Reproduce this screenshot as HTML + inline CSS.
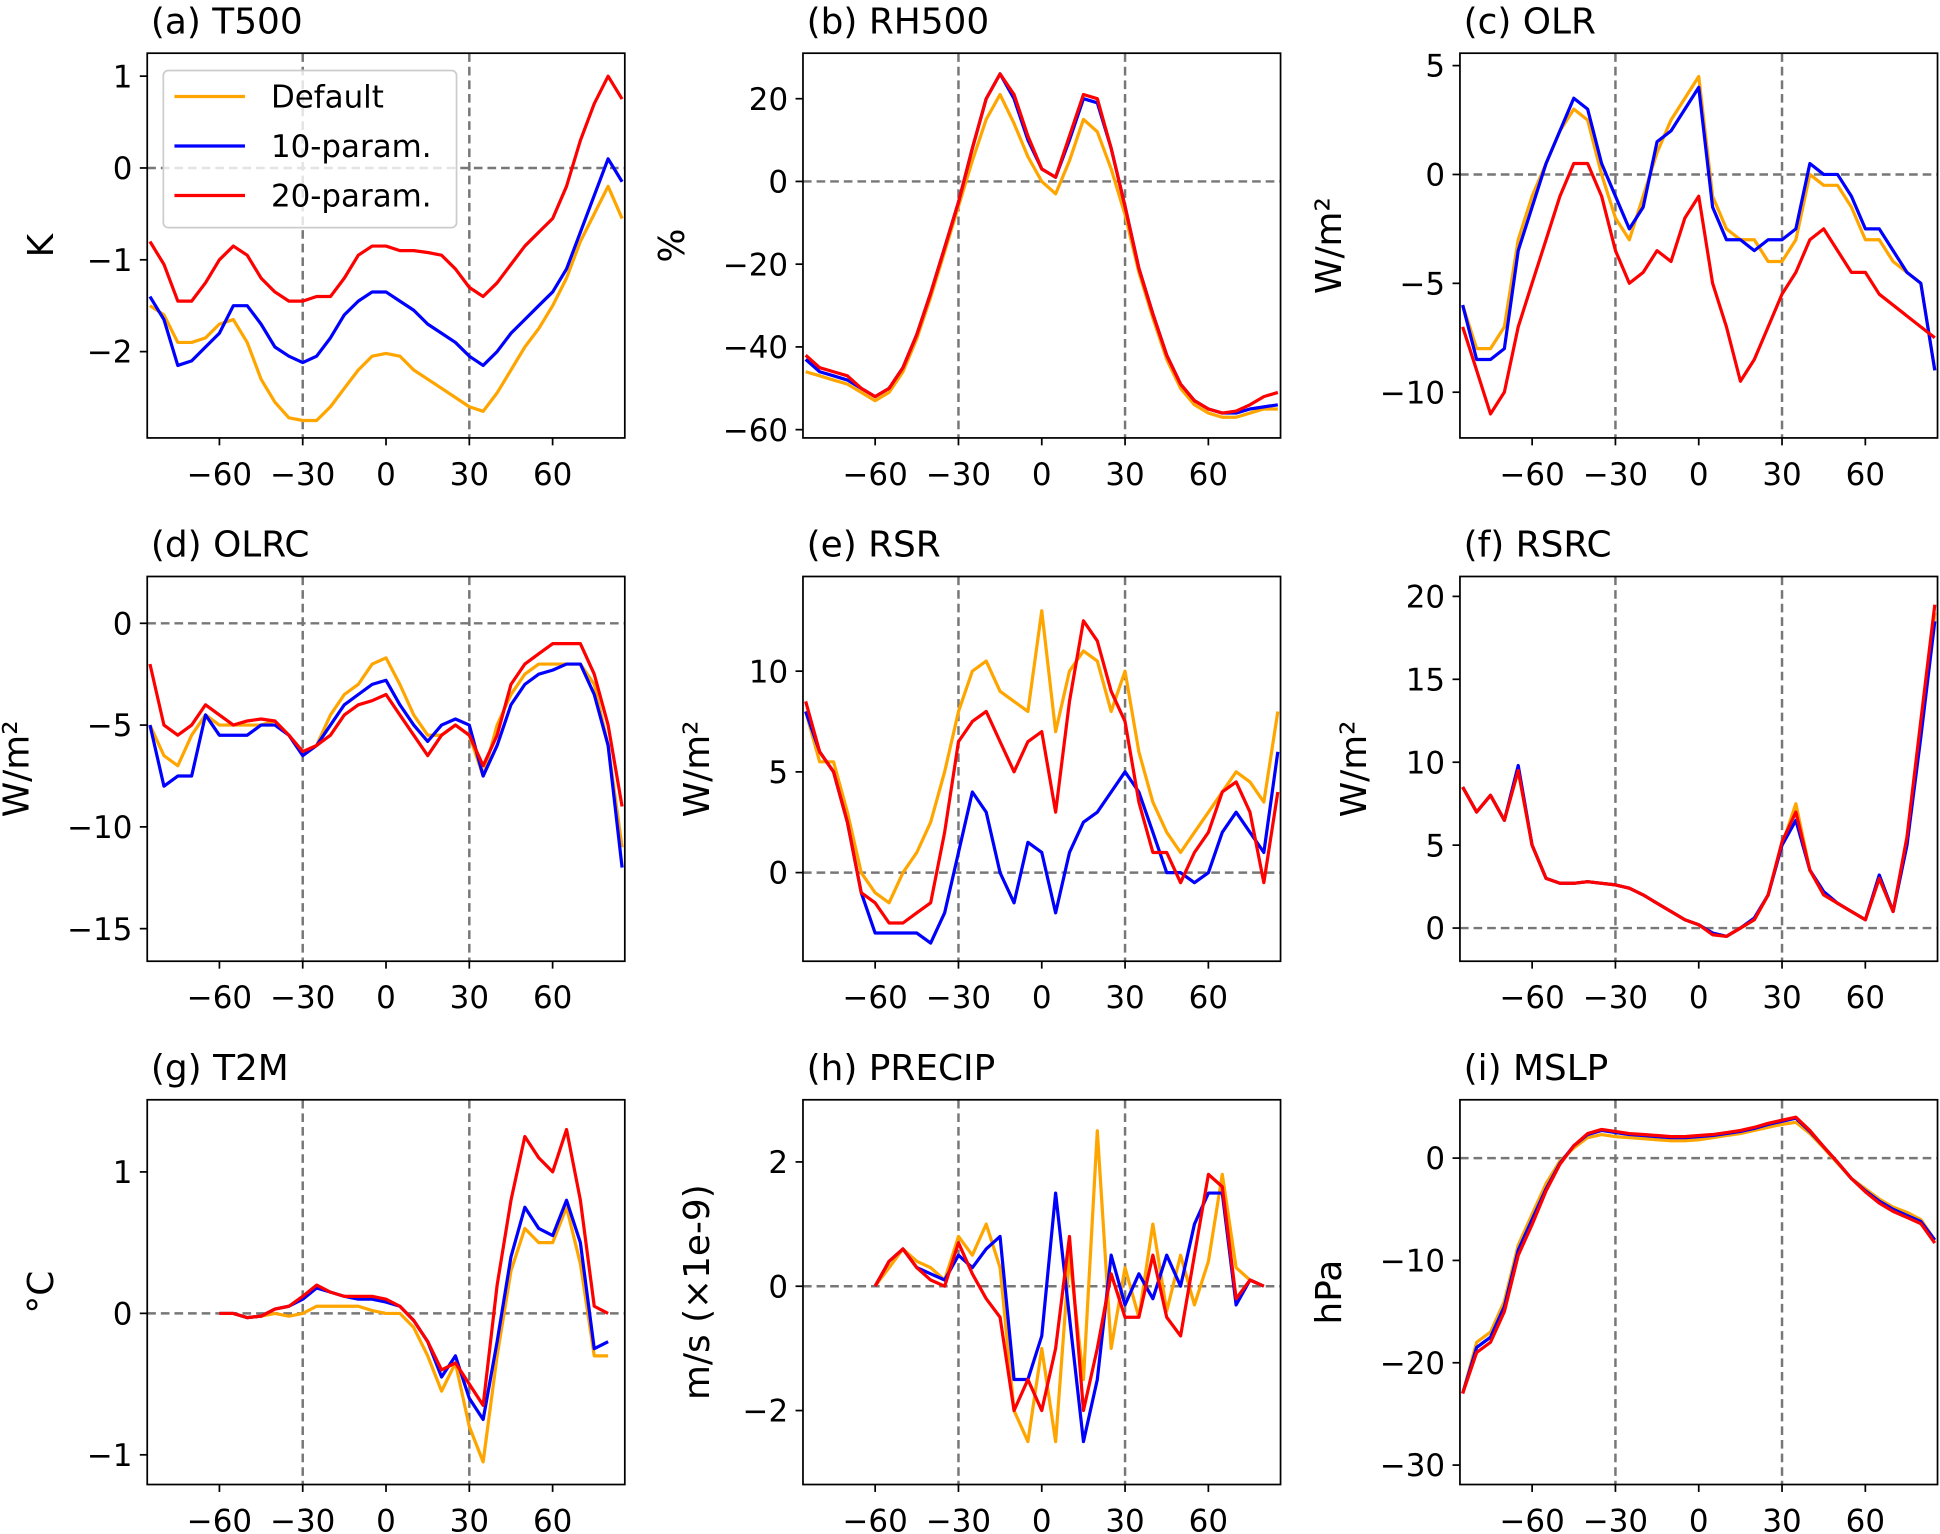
<!DOCTYPE html>
<html><head><meta charset="utf-8">
<style>
html,body{margin:0;padding:0;background:#fff;}
svg{display:block;}
text{font-family:"DejaVu Sans","Liberation Sans",sans-serif;fill:#000;}
</style></head>
<body>
<svg id="fig" width="1940" height="1534" viewBox="0 0 1568 1240" preserveAspectRatio="none" xmlns="http://www.w3.org/2000/svg"></svg>
<script>
const lats = [-85,-80,-75,-70,-65,-60,-55,-50,-45,-40,-35,-30,-25,-20,-15,-10,-5,0,5,10,15,20,25,30,35,40,45,50,55,60,65,70,75,80,85];
const xTicks = [-60,-30,0,30,60];
const seriesNames = ["Default","10-param.","20-param."];
const seriesColors = ["#FFA500","#0000FF","#FF0000"];
const N = null;

const t500Def = [-1.5,-1.6,-1.9,-1.9,-1.85,-1.7,-1.65,-1.9,-2.3,-2.55,-2.72,-2.75,-2.75,-2.6,-2.4,-2.2,-2.05,-2.02,-2.05,-2.2,-2.3,-2.4,-2.5,-2.6,-2.65,-2.45,-2.2,-1.95,-1.75,-1.5,-1.2,-0.8,-0.5,-0.2,-0.55];
const t500P10 = [-1.4,-1.65,-2.15,-2.1,-1.95,-1.8,-1.5,-1.5,-1.7,-1.95,-2.05,-2.12,-2.05,-1.85,-1.6,-1.45,-1.35,-1.35,-1.45,-1.55,-1.7,-1.8,-1.9,-2.05,-2.15,-2.0,-1.8,-1.65,-1.5,-1.35,-1.1,-0.7,-0.3,0.1,-0.15];
const t500P20 = [-0.8,-1.05,-1.45,-1.45,-1.25,-1.0,-0.85,-0.95,-1.2,-1.35,-1.45,-1.45,-1.4,-1.4,-1.2,-0.95,-0.85,-0.85,-0.9,-0.9,-0.92,-0.95,-1.1,-1.3,-1.4,-1.25,-1.05,-0.85,-0.7,-0.55,-0.2,0.3,0.7,1.0,0.75];

const rhDef = [-46,-47,-48,-49,-51,-53,-51,-46,-38,-28,-17,-6,5,15,21,14,6,0,-3,5,15,12,3,-8,-22,-33,-43,-50,-54,-56,-57,-57,-56,-55,-55];
const rhP10 = [-43,-46,-47,-48,-50,-52,-50,-45,-37,-27,-16,-5,8,20,26,20,10,3,1,10,20,19,8,-6,-21,-32,-42,-49,-53,-55,-56,-56,-55,-54.5,-54];
const rhP20 = [-42,-45,-46,-47,-50,-52,-50,-45,-37,-27,-16,-5,8,20,26,21,11,3,1,11,21,20,8,-6,-21,-32,-42,-49,-53,-55,-56,-55.5,-54,-52,-51];

const olrDef = [-6,-8,-8,-7,-3,-1,0.5,2,3,2.5,0,-2,-3,-1,1,2.5,3.5,4.5,-1,-2.5,-3,-3,-4,-4,-3,0,-0.5,-0.5,-1.5,-3,-3,-4,-4.5,-5,-9];
const olrP10 = [-6,-8.5,-8.5,-8,-3.5,-1.5,0.5,2,3.5,3,0.5,-1,-2.5,-1.5,1.5,2,3,4,-1.5,-3,-3,-3.5,-3,-3,-2.5,0.5,0,0,-1,-2.5,-2.5,-3.5,-4.5,-5,-9];
const olrP20 = [-7,-9,-11,-10,-7,-5,-3,-1,0.5,0.5,-1,-3.5,-5,-4.5,-3.5,-4,-2,-1,-5,-7,-9.5,-8.5,-7,-5.5,-4.5,-3,-2.5,-3.5,-4.5,-4.5,-5.5,-6,-6.5,-7,-7.5];

const olrcDef = [-5,-6.5,-7,-5.5,-4.5,-5,-5,-5,-5,-4.8,-5.5,-6.5,-6,-4.5,-3.5,-3,-2,-1.7,-3,-4.5,-5.5,-5.5,-5,-5.5,-7.5,-5,-3.5,-2.5,-2,-2,-2,-2,-3,-6,-11];
const olrcP10 = [-5,-8,-7.5,-7.5,-4.5,-5.5,-5.5,-5.5,-5,-5,-5.5,-6.5,-6,-5,-4,-3.5,-3,-2.8,-4,-5,-5.8,-5,-4.7,-5,-7.5,-6,-4,-3,-2.5,-2.3,-2,-2,-3.5,-6,-12];
const olrcP20 = [-2,-5,-5.5,-5,-4,-4.5,-5,-4.8,-4.7,-4.8,-5.5,-6.3,-6,-5.5,-4.5,-4,-3.8,-3.5,-4.5,-5.5,-6.5,-5.5,-5,-5.5,-7,-5.5,-3,-2,-1.5,-1,-1,-1,-2.5,-5,-9];

const rsrDef = [8,5.5,5.5,3,0,-1,-1.5,0,1,2.5,5,8,10,10.5,9,8.5,8,13,7,10,11,10.5,8,10,6,3.5,2,1,2,3,4,5,4.5,3.5,8];
const rsrP10 = [8,6,5,2.5,-1,-3,-3,-3,-3,-3.5,-2,1,4,3,0,-1.5,1.5,1,-2,1,2.5,3,4,5,4,2,0,0,-0.5,0,2,3,2,1,6];
const rsrP20 = [8.5,6,5,2.5,-1,-1.5,-2.5,-2.5,-2,-1.5,2,6.5,7.5,8,6.5,5,6.5,7,3,8.5,12.5,11.5,9,7.5,3.5,1,1,-0.5,1,2,4,4.5,3,-0.5,4];

const rsrcDef = [8.5,7,8,6.5,9.5,5,3,2.7,2.7,2.8,2.7,2.6,2.4,2,1.5,1,0.5,0.2,-0.3,-0.5,0,0.5,2,5,7.5,3.5,2,1.5,1,0.5,3,1,5,12,19];
const rsrcP10 = [8.5,7,8,6.5,9.8,5,3,2.7,2.7,2.8,2.7,2.6,2.4,2,1.5,1,0.5,0.2,-0.3,-0.5,0,0.6,2,5,6.5,3.5,2.2,1.5,1,0.5,3.2,1,5,11.5,18.5];
const rsrcP20 = [8.5,7,8,6.5,9.5,5,3,2.7,2.7,2.8,2.7,2.6,2.4,2,1.5,1,0.5,0.2,-0.4,-0.5,0,0.5,2,5.2,7,3.5,2,1.5,1,0.5,3,1,5.5,12.5,19.5];

const t2mDef = [N,N,N,N,N,0,0,-0.03,-0.02,0,-0.02,0,0.05,0.05,0.05,0.05,0.02,0,0,-0.1,-0.3,-0.55,-0.35,-0.8,-1.05,-0.3,0.3,0.6,0.5,0.5,0.75,0.35,-0.3,-0.3,N];
const t2mP10 = [N,N,N,N,N,0,0,-0.03,-0.02,0.03,0.05,0.1,0.18,0.15,0.12,0.1,0.1,0.08,0.05,-0.05,-0.2,-0.45,-0.3,-0.6,-0.75,-0.2,0.4,0.75,0.6,0.55,0.8,0.5,-0.25,-0.2,N];
const t2mP20 = [N,N,N,N,N,0,0,-0.03,-0.02,0.03,0.05,0.12,0.2,0.15,0.12,0.12,0.12,0.1,0.05,-0.05,-0.2,-0.4,-0.35,-0.5,-0.65,0.2,0.8,1.25,1.1,1.0,1.3,0.8,0.05,0.0,N];

const prDef = [N,N,N,N,N,0,0.3,0.6,0.4,0.3,0.1,0.8,0.5,1.0,0.3,-2,-2.5,-1,-2.5,0.5,-1.5,2.5,-1,0.3,-0.5,1,-0.4,0.5,-0.3,0.4,1.8,0.3,0.1,0,N];
const prP10 = [N,N,N,N,N,0,0.4,0.6,0.3,0.2,0.1,0.5,0.3,0.6,0.8,-1.5,-1.5,-0.8,1.5,-0.5,-2.5,-1.5,0.5,-0.3,0.2,-0.2,0.5,0,1,1.5,1.5,-0.3,0.1,0,N];
const prP20 = [N,N,N,N,N,0,0.4,0.6,0.3,0.1,0,0.7,0.2,-0.2,-0.5,-2,-1.5,-2,-1,0.8,-2,-1,0.2,-0.5,-0.5,0.5,-0.5,-0.8,0.5,1.8,1.6,-0.2,0.1,0,N];

const mslpDef = [-23,-18,-17,-14,-8.5,-5.5,-2.5,-0.3,1,2,2.3,2.1,2,1.9,1.8,1.7,1.7,1.8,2,2.2,2.4,2.7,3,3.3,3.5,2.4,1,-0.5,-2,-3,-4,-4.8,-5.3,-6,-8];
const mslpP10 = [-23,-18.5,-17.5,-14.5,-9,-6,-3,-0.5,1.2,2.3,2.7,2.5,2.3,2.2,2.1,2,2,2.1,2.2,2.4,2.6,2.9,3.3,3.6,3.9,2.6,1.1,-0.4,-2,-3.2,-4.2,-5,-5.6,-6.2,-8];
const mslpP20 = [-23,-19,-18,-15,-9.5,-6.5,-3.2,-0.6,1.2,2.4,2.8,2.6,2.4,2.3,2.2,2.1,2.1,2.2,2.3,2.5,2.7,3,3.4,3.7,4,2.7,1.1,-0.4,-2,-3.3,-4.4,-5.2,-5.8,-6.4,-8.3];

const panels = [
 {id:"t500",title:"(a) T500",ylab:"K",x0:119,y0:43,ymin:-2.94,ymax:1.25,yt:[1,0,-1,-2],yl:["1","0","\u22121","\u22122"],s:[t500Def,t500P10,t500P20],legend:true},
 {id:"rh500",title:"(b) RH500",ylab:"%",x0:649,y0:43,ymin:-62,ymax:31,yt:[20,0,-20,-40,-60],yl:["20","0","\u221220","\u221240","\u221260"],s:[rhDef,rhP10,rhP20]},
 {id:"olr",title:"(c) OLR",ylab:"W/m\u00b2",x0:1180,y0:43,ymin:-12.1,ymax:5.57,yt:[5,0,-5,-10],yl:["5","0","\u22125","\u221210"],s:[olrDef,olrP10,olrP20]},
 {id:"olrc",title:"(d) OLRC",ylab:"W/m\u00b2",x0:119,y0:466,ymin:-16.6,ymax:2.3,yt:[0,-5,-10,-15],yl:["0","\u22125","\u221210","\u221215"],s:[olrcDef,olrcP10,olrcP20]},
 {id:"rsr",title:"(e) RSR",ylab:"W/m\u00b2",x0:649,y0:466,ymin:-4.4,ymax:14.7,yt:[10,5,0],yl:["10","5","0"],s:[rsrDef,rsrP10,rsrP20]},
 {id:"rsrc",title:"(f) RSRC",ylab:"W/m\u00b2",x0:1180,y0:466,ymin:-2.0,ymax:21.2,yt:[20,15,10,5,0],yl:["20","15","10","5","0"],s:[rsrcDef,rsrcP10,rsrcP20]},
 {id:"t2m",title:"(g) T2M",ylab:"\u00b0C",x0:119,y0:889,ymin:-1.21,ymax:1.51,yt:[1,0,-1],yl:["1","0","\u22121"],s:[t2mDef,t2mP10,t2mP20]},
 {id:"precip",title:"(h) PRECIP",ylab:"m/s (\u00d71e-9)",x0:649,y0:889,ymin:-3.19,ymax:3.0,yt:[2,0,-2],yl:["2","0","\u22122"],s:[prDef,prP10,prP20]},
 {id:"mslp",title:"(i) MSLP",ylab:"hPa",x0:1180,y0:889,ymin:-31.9,ymax:5.7,yt:[0,-10,-20,-30],yl:["0","\u221210","\u221220","\u221230"],s:[mslpDef,mslpP10,mslpP20]}
];
const W=386,H=311,XMIN=-86,XMAX=86;
const NS="http://www.w3.org/2000/svg";
const fig=document.getElementById("fig");
function mk(tag,attrs,parent){const e=document.createElementNS(NS,tag);for(const k in attrs)e.setAttribute(k,attrs[k]);parent.appendChild(e);return e;}

panels.forEach(p=>{
  const g=mk("g",{},fig);
  
  
  const sx=v=>p.x0+(v-XMIN)/(XMAX-XMIN)*W;
  const sy=v=>p.y0+(p.ymax-v)/(p.ymax-p.ymin)*H;
  const clip=mk("clipPath",{id:"c"+p.id},g);
  mk("rect",{x:p.x0,y:p.y0,width:W,height:H},clip);
  [-30,30].forEach(v=>{
    const l=mk("line",{x1:sx(v),x2:sx(v),y1:p.y0,y2:p.y0+H,stroke:"#777","stroke-width":2,"stroke-dasharray":"7,4"},g);
    
    
  });
  const h=mk("line",{x1:p.x0,x2:p.x0+W,y1:sy(0),y2:sy(0),stroke:"#777","stroke-width":2,"stroke-dasharray":"7,4"},g);
  
  
  p.s.forEach((arr,si)=>{
    let d="",pen=false;
    arr.forEach((v,i)=>{
      if(v===null){pen=false;return;}
      d+=(pen?"L":"M")+sx(lats[i]).toFixed(1)+","+sy(v).toFixed(1);pen=true;
    });
    const path=mk("path",{d:d,fill:"none",stroke:seriesColors[si],"stroke-width":2.6,"stroke-linejoin":"round","clip-path":"url(#c"+p.id+")"},g);
    
    
  });
  const fr=mk("rect",{x:p.x0,y:p.y0,width:W,height:H,fill:"none",stroke:"#000","stroke-width":1.4},g);
  
  
  xTicks.forEach(v=>{
    mk("line",{x1:sx(v),x2:sx(v),y1:p.y0+H,y2:p.y0+H+6,stroke:"#000","stroke-width":1.4},g);
    const t=mk("text",{x:sx(v),y:p.y0+H+38,"font-size":25,"text-anchor":"middle"},g);
    t.textContent=v<0?"\u2212"+(-v):String(v);
    
    
  });
  p.yt.forEach((v,i)=>{
    mk("line",{x1:p.x0-6,x2:p.x0,y1:sy(v),y2:sy(v),stroke:"#000","stroke-width":1.4},g);
    const t=mk("text",{x:p.x0-12,y:sy(v)+9,"font-size":25,"text-anchor":"end"},g);
    t.textContent=p.yl[i];
    
    
  });
  const tt=mk("text",{x:p.x0+3,y:p.y0-16,"font-size":29},g);
  tt.textContent=p.title;
  
  
  const yx=p.x0-(p.yl.some(s=>s.length>=3)?96:76);
  const cy=p.y0+H/2;
  const yl=mk("text",{x:yx,y:cy,"font-size":29,"text-anchor":"middle",transform:"rotate(-90 "+yx+" "+cy+")"},g);
  yl.textContent=p.ylab;
  
  
  if(p.legend){
    const lg=mk("g",{},g);
    
    
    mk("rect",{x:132,y:57,width:237,height:127,rx:4,fill:"#fff","fill-opacity":0.8,stroke:"#ccc","stroke-width":1.4},lg);
    seriesNames.forEach((n,i)=>{
      const yy=78+i*40;
      const e=mk("g",{},lg);
      
      
      mk("line",{x1:141,x2:198,y1:yy,y2:yy,stroke:seriesColors[i],"stroke-width":2.6},e);
      const t=mk("text",{x:219,y:yy+9,"font-size":25},e);
      t.textContent=n;
    });
  }
});
</script>
</body></html>
